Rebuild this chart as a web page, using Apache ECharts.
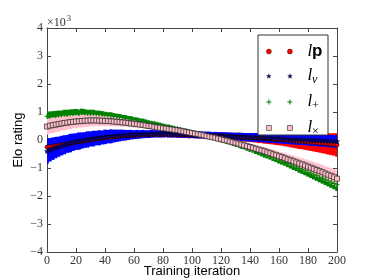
<!DOCTYPE html>
<html><head><meta charset="utf-8">
<script src="https://cdn.jsdelivr.net/npm/echarts@6/dist/echarts.min.js"></script>
<style>html,body{margin:0;padding:0;background:#fff}#c{width:374px;height:280px}</style>
</head><body><div id="c"></div><script>
const iterations = [0,2,4,6,8,10,12,14,16,18,20,22,24,26,28,30,32,34,36,38,40,42,44,46,48,50,52,54,56,58,60,62,64,66,68,70,72,74,76,78,80,82,84,86,88,90,92,94,96,98,100,102,104,106,108,110,112,114,116,118,120,122,124,126,128,130,132,134,136,138,140,142,144,146,148,150,152,154,156,158,160,162,164,166,168,170,172,174,176,178,180,182,184,186,188,190,192,194,196,198,200];

const lpMean = [-0.25,-0.24,-0.22,-0.21,-0.19,-0.17,-0.16,-0.14,-0.12,-0.10,
-0.08,-0.06,-0.05,-0.03,-0.01,0.01,0.02,0.04,0.05,0.07,
0.08,0.09,0.10,0.11,0.12,0.13,0.14,0.15,0.16,0.16,
0.17,0.17,0.18,0.18,0.19,0.19,0.19,0.20,0.20,0.20,
0.20,0.20,0.20,0.20,0.20,0.19,0.19,0.19,0.19,0.18,
0.18,0.18,0.17,0.17,0.17,0.16,0.16,0.15,0.15,0.14,
0.14,0.13,0.13,0.12,0.12,0.11,0.11,0.10,0.09,0.09,
0.08,0.08,0.07,0.06,0.06,0.05,0.04,0.04,0.03,0.02,
0.01,0.01,0.00,-0.01,-0.02,-0.03,-0.04,-0.05,-0.05,-0.06,
-0.07,-0.08,-0.09,-0.10,-0.11,-0.12,-0.13,-0.14,-0.15,-0.16,
-0.18];
const lpErr = [0.20,0.19,0.20,0.18,0.19,0.17,0.18,0.16,0.17,0.15,
0.16,0.14,0.15,0.13,0.14,0.12,0.13,0.12,0.11,0.12,
0.11,0.10,0.11,0.10,0.09,0.10,0.09,0.09,0.08,0.09,
0.08,0.08,0.09,0.08,0.08,0.09,0.08,0.09,0.09,0.10,
0.09,0.10,0.10,0.11,0.10,0.11,0.11,0.12,0.11,0.12,
0.11,0.11,0.12,0.11,0.12,0.12,0.12,0.13,0.12,0.13,
0.13,0.13,0.14,0.13,0.14,0.14,0.15,0.14,0.15,0.15,
0.15,0.16,0.16,0.17,0.17,0.18,0.18,0.19,0.19,0.20,
0.20,0.21,0.22,0.23,0.24,0.25,0.26,0.27,0.28,0.29,
0.30,0.31,0.32,0.33,0.34,0.35,0.36,0.38,0.39,0.40,
0.42];

const lvMean = [-0.40,-0.35,-0.31,-0.27,-0.24,-0.20,-0.17,-0.14,-0.11,-0.08,
-0.06,-0.04,-0.02,0.00,0.02,0.04,0.05,0.07,0.08,0.09,
0.11,0.12,0.13,0.14,0.15,0.16,0.17,0.17,0.18,0.19,
0.19,0.20,0.20,0.21,0.21,0.21,0.22,0.22,0.22,0.22,
0.22,0.22,0.22,0.21,0.21,0.21,0.21,0.20,0.20,0.20,
0.19,0.19,0.19,0.18,0.18,0.17,0.17,0.16,0.16,0.15,
0.15,0.14,0.14,0.13,0.13,0.12,0.12,0.11,0.11,0.10,
0.10,0.09,0.09,0.08,0.08,0.07,0.07,0.06,0.06,0.05,
0.05,0.04,0.04,0.03,0.03,0.02,0.02,0.01,0.01,0.00,
0.00,-0.01,-0.01,-0.02,-0.02,-0.03,-0.03,-0.04,-0.04,-0.05,
-0.05];
const lvErr = [0.45,0.42,0.40,0.38,0.36,0.35,0.34,0.32,0.33,0.31,
0.30,0.31,0.29,0.28,0.29,0.27,0.28,0.26,0.27,0.25,
0.26,0.24,0.25,0.23,0.22,0.21,0.20,0.19,0.18,0.17,
0.16,0.16,0.15,0.15,0.14,0.14,0.14,0.13,0.13,0.13,
0.13,0.12,0.13,0.12,0.12,0.12,0.13,0.12,0.12,0.12,
0.12,0.13,0.12,0.13,0.12,0.13,0.13,0.12,0.13,0.13,
0.13,0.14,0.13,0.14,0.13,0.14,0.14,0.15,0.14,0.15,
0.15,0.15,0.16,0.15,0.16,0.16,0.16,0.17,0.16,0.17,
0.17,0.17,0.18,0.17,0.18,0.18,0.19,0.18,0.19,0.19,
0.19,0.20,0.20,0.20,0.21,0.21,0.21,0.22,0.22,0.22,
0.23];

const lplusMean = [0.85,0.86,0.88,0.87,0.89,0.90,0.92,0.91,0.93,0.95,
0.96,0.95,0.97,0.96,0.95,0.94,0.95,0.93,0.92,0.91,
0.89,0.88,0.87,0.85,0.84,0.82,0.80,0.79,0.77,0.75,
0.72,0.71,0.69,0.67,0.65,0.62,0.60,0.58,0.56,0.54,
0.51,0.49,0.47,0.45,0.42,0.40,0.38,0.35,0.33,0.30,
0.27,0.25,0.22,0.20,0.17,0.14,0.12,0.09,0.06,0.03,
0.00,-0.03,-0.06,-0.09,-0.12,-0.16,-0.19,-0.23,-0.26,-0.30,
-0.34,-0.37,-0.41,-0.45,-0.49,-0.53,-0.56,-0.60,-0.64,-0.68,
-0.72,-0.76,-0.80,-0.84,-0.89,-0.93,-0.97,-1.02,-1.06,-1.10,
-1.15,-1.19,-1.24,-1.28,-1.33,-1.37,-1.42,-1.46,-1.51,-1.55,
-1.60];
const lplusErr = [0.15,0.16,0.15,0.17,0.16,0.15,0.16,0.17,0.16,0.15,
0.15,0.14,0.15,0.14,0.13,0.14,0.13,0.12,0.13,0.12,
0.12,0.11,0.12,0.11,0.10,0.11,0.10,0.10,0.09,0.10,
0.09,0.09,0.08,0.09,0.08,0.08,0.07,0.08,0.07,0.07,
0.07,0.06,0.07,0.06,0.06,0.06,0.05,0.06,0.05,0.05,
0.05,0.05,0.05,0.05,0.05,0.05,0.06,0.05,0.06,0.06,
0.06,0.06,0.07,0.06,0.07,0.07,0.07,0.08,0.07,0.08,
0.08,0.08,0.09,0.09,0.09,0.10,0.10,0.10,0.11,0.11,
0.12,0.12,0.12,0.13,0.13,0.14,0.14,0.15,0.15,0.16,
0.16,0.17,0.17,0.18,0.18,0.19,0.19,0.20,0.20,0.21,
0.22];

const ltimesMean = [0.48,0.51,0.53,0.55,0.57,0.59,0.61,0.62,0.64,0.65,
0.66,0.67,0.68,0.69,0.69,0.70,0.70,0.70,0.69,0.69,
0.68,0.68,0.67,0.66,0.65,0.64,0.63,0.62,0.61,0.59,
0.58,0.57,0.55,0.54,0.52,0.50,0.49,0.47,0.45,0.44,
0.42,0.41,0.39,0.38,0.36,0.35,0.33,0.31,0.29,0.27,
0.25,0.23,0.21,0.19,0.17,0.14,0.12,0.10,0.08,0.05,
0.03,0.00,-0.02,-0.05,-0.08,-0.10,-0.13,-0.16,-0.19,-0.22,
-0.25,-0.28,-0.31,-0.34,-0.37,-0.40,-0.44,-0.47,-0.51,-0.54,
-0.58,-0.61,-0.65,-0.69,-0.72,-0.76,-0.80,-0.84,-0.87,-0.91,
-0.95,-0.99,-1.03,-1.07,-1.11,-1.15,-1.20,-1.24,-1.28,-1.33,
-1.38];
const ltimesErr = [0.28,0.27,0.28,0.26,0.27,0.25,0.26,0.24,0.25,0.23,
0.24,0.22,0.23,0.21,0.22,0.20,0.21,0.19,0.20,0.18,
0.19,0.17,0.18,0.16,0.17,0.15,0.16,0.14,0.15,0.13,
0.14,0.12,0.13,0.11,0.12,0.10,0.11,0.10,0.09,0.10,
0.09,0.08,0.09,0.08,0.07,0.08,0.07,0.07,0.06,0.07,
0.06,0.06,0.07,0.06,0.07,0.07,0.08,0.07,0.08,0.08,
0.09,0.08,0.09,0.10,0.09,0.10,0.11,0.10,0.11,0.12,
0.12,0.13,0.12,0.13,0.14,0.14,0.15,0.15,0.16,0.16,
0.17,0.17,0.18,0.18,0.19,0.20,0.20,0.21,0.21,0.22,
0.22,0.23,0.23,0.24,0.25,0.25,0.26,0.26,0.27,0.28,
0.28];

const seriesNames = ['lp', 'lv', 'l+', 'l×'];
const xTicks = [0,20,40,60,80,100,120,140,160,180,200];
const yTicks = [-4,-3,-2,-1,0,1,2,3,4];

const SERIF = "'Liberation Serif','DejaVu Serif',serif";
const SANS = "'Liberation Sans','DejaVu Sans',sans-serif";

function bandData(mean, err){ return iterations.map((x,i)=>[x, mean[i]-err[i], mean[i]+err[i]]); }
function pts(mean){ return iterations.map((x,i)=>[x, mean[i]]); }

function band(name, color, mean, err, z){
  return {
    type:'custom', name: name + ' err', z: z, silent: true, clip: true,
    renderItem: function(params, api){
      const x = api.value(0);
      const lo = api.coord([x, api.value(1)]);
      const hi = api.coord([x, api.value(2)]);
      const w = api.size([2, 0])[0] + 0.7;
      return { type:'rect', shape:{ x: lo[0]-w/2, y: hi[1], width: w, height: lo[1]-hi[1] }, style:{ fill: color } };
    },
    encode: { x: 0, y: [1, 2] },
    data: bandData(mean, err)
  };
}

const starOne = 'M2.5,0L3.088,1.691L4.878,1.727L3.451,2.809L3.969,4.523L2.5,3.5L1.031,4.523L1.549,2.809L0.122,1.727L1.912,1.691Z';
const starTwo = 'M23.5,0L24.088,1.691L25.878,1.727L24.451,2.809L24.969,4.523L23.5,3.5L22.031,4.523L22.549,2.809L21.122,1.727L22.912,1.691Z';
const plusOne = 'M0,2L5,2L5,3L0,3ZM2,0L3,0L3,5L2,5Z';
const plusTwo = 'M21,2L26,2L26,3L21,3ZM23,0L24,0L24,5L23,5Z';

const legendItems = {
  'lp': { icon: 'path://M0,2.5a2.5,2.5 0 1,0 5,0a2.5,2.5 0 1,0 -5,0ZM21,2.5a2.5,2.5 0 1,0 5,0a2.5,2.5 0 1,0 -5,0Z',
          itemStyle: { color: '#ff0000', borderColor: '#000', borderWidth: 0.4 } },
  'lv': { icon: 'path://' + starOne + starTwo,
          itemStyle: { color: '#000080', borderColor: '#000', borderWidth: 0.3 } },
  'l+': { icon: 'path://' + plusOne + plusTwo,
          itemStyle: { color: '#008000', borderWidth: 0 } },
  'l×': { icon: 'path://M0,0L5,0L5,5L0,5ZM21,0L26,0L26,5L21,5Z',
          itemStyle: { color: '#ffc0cb', borderColor: '#555', borderWidth: 0.8 } }
};

const chart = echarts.init(document.getElementById('c'), null, {renderer:'canvas'});
const labelFmt = v => String(v).replace('-', '\u2212');
const frame = { color: '#444', width: 1 };

chart.setOption({
  animation: false,
  backgroundColor: '#fff',
  grid: { left: 47, right: 37, top: 28, bottom: 28, containLabel: false, outerBoundsMode: 'none' },
  xAxis: [
    { type:'value', min: xTicks[0], max: xTicks[xTicks.length-1], interval: 20,
      name: 'Training iteration', nameLocation: 'middle', nameGap: 13, nameMoveOverlap: false,
      nameTextStyle: { fontFamily: SANS, fontSize: 13, color: '#000' },
      axisLine: { onZero: false, lineStyle: frame },
      axisTick: { inside: true, length: 4, lineStyle: { color: '#444' } },
      axisLabel: { fontFamily: SERIF, fontSize: 12, color: '#333', margin: 3, formatter: labelFmt },
      splitLine: { show: false } },
    { type:'value', position:'top', min: xTicks[0], max: xTicks[xTicks.length-1], interval: 20,
      axisLine: { onZero: false, lineStyle: frame },
      axisTick: { inside: true, length: 4, lineStyle: { color: '#444' } },
      axisLabel: { show: false }, splitLine: { show: false } }
  ],
  yAxis: [
    { type:'value', min: yTicks[0], max: yTicks[yTicks.length-1], interval: 1,
      name: 'Elo rating', nameLocation: 'middle', nameGap: 22, nameRotate: 90, nameMoveOverlap: false,
      nameTextStyle: { fontFamily: SANS, fontSize: 13, color: '#000' },
      axisLine: { show: true, onZero: false, lineStyle: frame },
      axisTick: { show: true, inside: true, length: 4, lineStyle: { color: '#444' } },
      axisLabel: { fontFamily: SERIF, fontSize: 12, color: '#333', margin: 4, formatter: labelFmt },
      splitLine: { show: false } },
    { type:'value', position:'right', min: yTicks[0], max: yTicks[yTicks.length-1], interval: 1,
      axisLine: { show: true, onZero: false, lineStyle: frame },
      axisTick: { show: true, inside: true, length: 4, lineStyle: { color: '#444' } },
      axisLabel: { show: false }, splitLine: { show: false } }
  ],
  legend: {
    left: 266, top: 43, orient: 'vertical',
    data: seriesNames.map(n => ({ name: n, icon: legendItems[n].icon, itemStyle: legendItems[n].itemStyle })),
    itemWidth: 26, itemHeight: 5, itemGap: 4, itemTextGap: 20,
    padding: 0, z: 10,
    formatter: function(name){
      if (name === 'lp') return '{i|l}{b|p}';
      if (name === 'lv') return '{i|l}{si|v}';
      if (name === 'l+') return '{i|l}{s|+}';
      return '{i|l}{s|×}';
    },
    textStyle: {
      color: '#000',
      rich: {
        i: { fontFamily: SERIF, fontStyle: 'italic', fontSize: 17, lineHeight: 20, padding: [0,0,0,10], color: '#000' },
        b: { fontFamily: SANS, fontWeight: 'bold', fontSize: 17, lineHeight: 20, color: '#000' },
        si: { fontFamily: SERIF, fontStyle: 'italic', fontSize: 12, lineHeight: 12, verticalAlign: 'bottom', padding: [10,0,0,0], color: '#000' },
        s: { fontFamily: SERIF, fontSize: 12, lineHeight: 12, verticalAlign: 'bottom', padding: [10,0,0,0], color: '#000' }
      }
    }
  },
  graphic: [
    { type:'rect', z: 9, shape: { x: 258, y: 35, width: 70, height: 100 }, style: { fill: '#fff', stroke: '#333', lineWidth: 1 } },
    { type:'text', z: 9, left: 47, top: 17, style: { text: '×10', font: "12px 'Liberation Serif', serif", fill: '#333' } },
    { type:'text', z: 9, left: 67, top: 15, style: { text: '3', font: "8px 'Liberation Serif', serif", fill: '#333' } }
  ],
  series: [
    band('lp', '#ff0000', lpMean, lpErr, 1),
    band('lv', '#0000ff', lvMean, lvErr, 1),
    band('l+', '#008000', lplusMean, lplusErr, 1),
    band('l×', '#ffc0cb', ltimesMean, ltimesErr, 1),
    { type:'scatter', name:'lp', z: 3, data: pts(lpMean), symbol:'circle', symbolSize: 4,
      itemStyle: { color:'#ff0000', borderColor:'#000', borderWidth: 0.6, opacity: 1 } },
    { type:'scatter', name:'lv', z: 3, data: pts(lvMean), symbol: 'path://' + starOne, symbolSize: 5,
      itemStyle: { color:'#0000a0', borderColor:'#000', borderWidth: 0.5, opacity: 1 } },
    { type:'scatter', name:'l+', z: 3, data: pts(lplusMean), symbol: 'path://' + plusOne, symbolSize: 5,
      itemStyle: { color:'#008000', opacity: 1 } },
    { type:'scatter', name:'l×', z: 3, data: pts(ltimesMean), symbol:'rect', symbolSize: 5,
      itemStyle: { color:'#ffc0cb', borderColor:'#222', borderWidth: 0.7, opacity: 1 } }
  ]
});
</script></body></html>
